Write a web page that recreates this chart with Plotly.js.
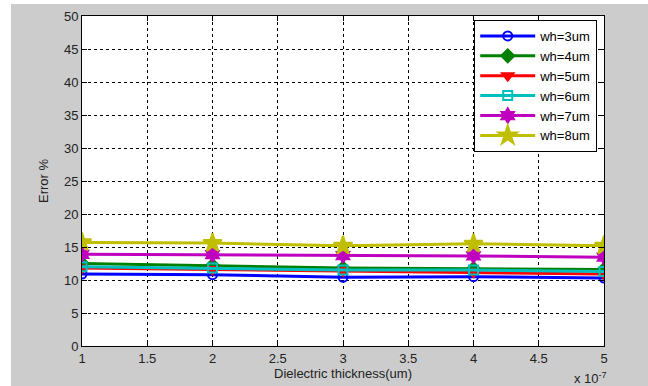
<!DOCTYPE html>
<html>
<head>
<meta charset="utf-8">
<script src="https://cdn.plot.ly/plotly-3.0.1.min.js"></script>
<style>
html,body{margin:0;padding:0;background:#ffffff;width:648px;height:386px;overflow:hidden;}
#chart{position:absolute;left:11px;top:4px;width:637px;height:382px;}
</style>
</head>
<body>
<div id="chart"></div>
<script>
// Dielectric thickness in units of 1e-7 um
const thickness = [1, 2, 3, 4, 5];
const seriesNames = ["wh=3um", "wh=4um", "wh=5um", "wh=6um", "wh=7um", "wh=8um"];
const wh3 = [10.9, 10.8, 10.4, 10.5, 10.3];
const wh4 = [12.5, 12.2, 11.8, 11.7, 11.6];
const wh5 = [11.8, 11.6, 11.4, 11.2, 10.9];
const wh6 = [12.0, 11.8, 11.5, 11.5, 11.3];
const wh7 = [13.9, 13.85, 13.7, 13.65, 13.45];
const wh8 = [15.7, 15.6, 15.2, 15.5, 15.2];
const xTickVals = [1, 1.5, 2, 2.5, 3, 3.5, 4, 4.5, 5];
const xTickText = ["1", "1.5", "2", "2.5", "3", "3.5", "4", "4.5", "5"];
const yTickVals = [0, 5, 10, 15, 20, 25, 30, 35, 40, 45, 50];

const values = [wh3, wh4, wh5, wh6, wh7, wh8];
const colors = ["#0000ff", "#008000", "#ff0000", "#00bfbf", "#bf00bf", "#bfbf00"];
const symbols = ["circle-open", "diamond", "triangle-down", "square-open", "hexagram", "star"];
const sizes = [9, 10, 10, 9, 11, 14];

const traces = values.map((v, i) => ({
  x: thickness,
  y: v,
  name: seriesNames[i],
  type: "scatter",
  mode: "lines+markers",
  line: {color: colors[i], width: 3},
  marker: {color: colors[i], symbol: symbols[i], size: sizes[i], line: {color: colors[i], width: 2}}
}));

const font = {family: "Liberation Sans, Arial, sans-serif", size: 13, color: "#222222"};

const layout = {
  width: 637,
  height: 382,
  paper_bgcolor: "#cccccc",
  plot_bgcolor: "#ffffff",
  margin: {l: 71, r: 44, t: 12, b: 40},
  font: font,
  showlegend: true,
  legend: {
    x: 0.987, y: 0.988, xanchor: "right", yanchor: "top",
    bgcolor: "#ffffff", bordercolor: "#000000", borderwidth: 1,
    font: {family: "Liberation Sans, Arial, sans-serif", size: 13, color: "#000000"},
    itemwidth: 55,
    tracegroupgap: 0
  },
  xaxis: {
    range: [1, 5],
    tickvals: xTickVals,
    ticktext: xTickText,
    ticks: "inside", ticklen: 5, tickcolor: "#000000",
    showline: true, linecolor: "#000000", linewidth: 1, mirror: "ticks",
    showgrid: true, gridcolor: "#000000", griddash: "3px,3px", gridwidth: 1,
    zeroline: false,
    title: {text: "Dielectric thickness(um)", font: font, standoff: 2}
  },
  yaxis: {
    range: [0, 50],
    tickvals: yTickVals,
    ticks: "inside", ticklen: 5, tickcolor: "#000000",
    showline: true, linecolor: "#000000", linewidth: 1, mirror: "ticks",
    showgrid: true, gridcolor: "#000000", griddash: "3px,3px", gridwidth: 1,
    zeroline: false,
    title: {text: "Error %", font: font, standoff: 12}
  },
  annotations: [{
    text: "x 10<sup>-7</sup>",
    xref: "paper", yref: "paper",
    x: 1.01, y: 0, yshift: -22,
    xanchor: "right", yanchor: "top",
    showarrow: false, font: font
  }]
};

Plotly.newPlot("chart", traces, layout, {displayModeBar: false, staticPlot: true});
</script>
</body>
</html>
